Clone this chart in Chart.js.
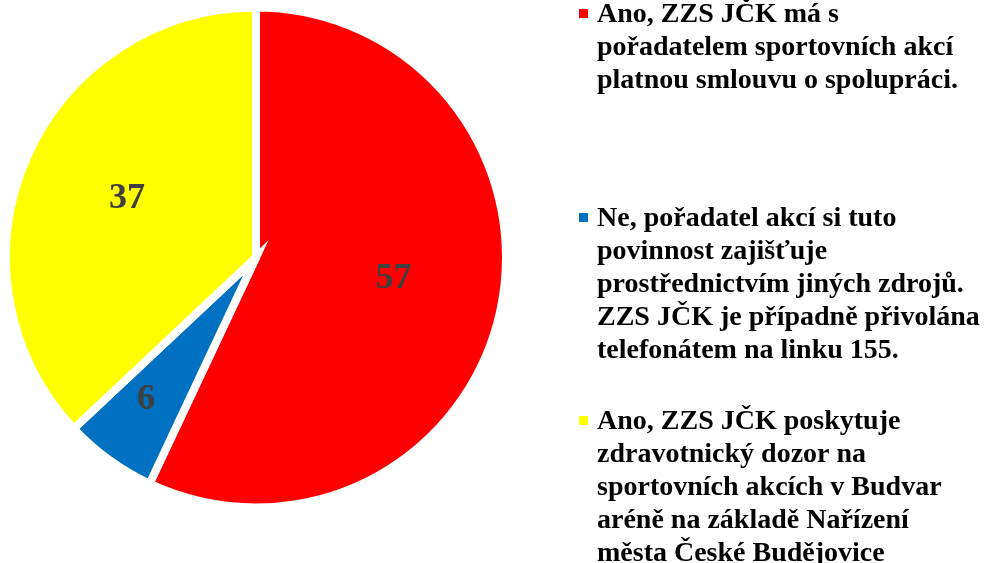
<!DOCTYPE html>
<html>
<head>
<meta charset="utf-8">
<script src="https://cdn.jsdelivr.net/npm/chart.js@4.4.1/dist/chart.umd.min.js"></script>
<style>
    html, body { margin: 0; padding: 0; background: #fff; }
    #box { position: relative; width: 984px; height: 563px; }
</style>
</head>
<body>
<div id="box"><canvas id="pie"></canvas></div>
<script>
const answers = [
    'Ano, ZZS JČK má s pořadatelem sportovních akcí platnou smlouvu o spolupráci.',
    'Ne, pořadatel akcí si tuto povinnost zajišťuje prostřednictvím jiných zdrojů. ZZS JČK je případně přivolána telefonátem na linku 155.',
    'Ano, ZZS JČK poskytuje zdravotnický dozor na sportovních akcích v Budvar aréně na základě Nařízení města České Budějovice'
]
const legendLines = [
    ['Ano, ZZS JČK má s', 'pořadatelem sportovních akcí', 'platnou smlouvu o spolupráci.'],
    ['Ne, pořadatel akcí si tuto', 'povinnost zajišťuje', 'prostřednictvím jiných zdrojů.', 'ZZS JČK je případně přivolána', 'telefonátem na linku 155.'],
    ['Ano, ZZS JČK poskytuje', 'zdravotnický dozor na', 'sportovních akcích v Budvar', 'aréně na základě Nařízení', 'města České Budějovice']
]
const counts = [57, 6, 37]
const sliceColors = ['#FF0000', '#0070C0', '#FFFF00']

const serif = '"Liberation Serif", "Times New Roman", Times, serif'

// wrapped legend on the right, one block per answer
const legendBaselines = [22, 226, 429]
const sideLegend = {
    id: 'sideLegend',
    afterDraw(chart) {
        const ctx = chart.ctx
        ctx.save()
        ctx.font = 'bold 28px ' + serif
        ctx.textAlign = 'left'
        ctx.textBaseline = 'alphabetic'
        legendLines.forEach((lines, i) => {
            const y0 = legendBaselines[i]
            ctx.fillStyle = sliceColors[i]
            ctx.fillRect(579, y0 - 13, 9, 9)
            ctx.fillStyle = '#000000'
            lines.forEach((line, j) => {
                ctx.fillText(line, 597, y0 + j * 33)
            })
        })
        ctx.restore()
    }
}

// values written inside the slices (best-fit spots as in the original)
const sliceValues = {
    id: 'sliceValues',
    afterDatasetsDraw(chart) {
        const ctx = chart.ctx
        const meta = chart.getDatasetMeta(0)
        const size = 36
        ctx.save()
        ctx.font = 'bold ' + size + 'px ' + serif
        ctx.fillStyle = '#404040'
        ctx.textAlign = 'center'
        ctx.textBaseline = 'alphabetic'
        meta.data.forEach((arc, i) => {
            const span = arc.endAngle - arc.startAngle
            const big = span > 3
            const mid = (arc.startAngle + arc.endAngle) / 2 + (big ? -0.09 : 0.04)
            const r = arc.outerRadius * (span < 0.6 ? 0.71 : big ? 0.555 : 0.573)
            const x = arc.x + Math.cos(mid) * r
            const y = arc.y + Math.sin(mid) * r
            ctx.fillText(chart.data.datasets[0].data[i], x, y + size * 0.34)
        })
        ctx.restore()
    }
}

const ctx = document.getElementById('pie').getContext('2d')
new Chart(ctx, {
    type: 'pie',
    data: {
        labels: answers,
        datasets: [{
            data: counts,
            backgroundColor: sliceColors,
            borderColor: '#FFFFFF',
            borderWidth: 8,
            borderJoinStyle: 'miter'
        }]
    },
    options: {
        responsive: true,
        maintainAspectRatio: false,
        animation: false,
        layout: { padding: { left: 2, right: 474, top: 3.5, bottom: 51.5 } },
        plugins: {
            legend: { display: false },
            tooltip: { enabled: false }
        }
    },
    plugins: [sliceValues, sideLegend]
});
</script>
</body>
</html>
